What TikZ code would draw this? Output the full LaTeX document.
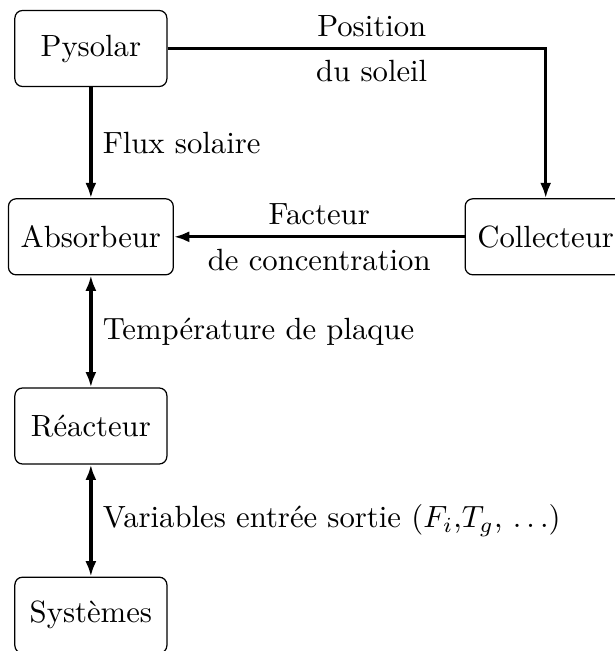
\documentclass[tikz,border=0pt]{standalone}
\usetikzlibrary{arrows.meta}

\tikzset{
    bloc/.style={draw, rounded corners=2.5pt, inner sep=4pt,
        minimum width=1.74cm, minimum height=0.87cm},
    fleche/.style={line width=1.1pt, -{Latex[length=5pt,width=3.6pt]}},
    bifleche/.style={line width=1.1pt,
        {Latex[length=5pt,width=3.6pt]}-{Latex[length=5pt,width=3.6pt]}},
}

\begin{document}
\begin{tikzpicture}
    \useasboundingbox (0,0) rectangle (7.03,-7.45);

    \node[bloc] (pysolar) at (1.04,-0.555) {Pysolar};
    \node[bloc] (absorbeur) at (1.04,-2.71) {Absorbeur};
    \node[bloc] (collecteur) at (6.245,-2.71) {Collecteur};
    \node[bloc] (reacteur) at (1.04,-4.875) {Réacteur};
    \node[bloc] (systemes) at (1.04,-7.04) {Systèmes};

    \draw[fleche] (pysolar.east) -| (collecteur.north)
        node[pos=0.27, above] {Position}
        node[pos=0.27, below] {du soleil};
    \draw[fleche] (pysolar) -- (absorbeur) node[midway, right] {Flux solaire};
    \draw[fleche] (collecteur) -- (absorbeur)
        node[midway, above] {Facteur}
        node[midway, below] {de concentration};

    % Les échanges avec le réacteur vont dans les deux sens.
    \draw[bifleche] (absorbeur) -- (reacteur)
        node[midway, right] {Température de plaque};
    \draw[bifleche] (reacteur) -- (systemes)
        node[midway, right] {Variables entrée sortie ($F_i$,$T_g$, $\dots$)};
\end{tikzpicture}
\end{document}
